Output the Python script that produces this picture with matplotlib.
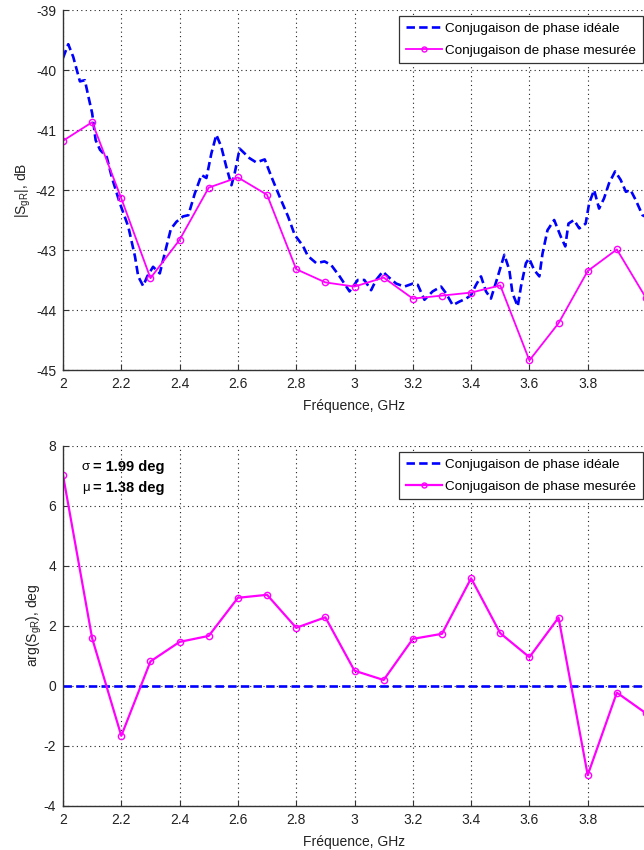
import matplotlib
matplotlib.use("Agg")
import matplotlib.pyplot as plt

plt.rcParams['font.family'] = ['Liberation Sans', 'DejaVu Sans']
plt.rcParams['mathtext.fontset'] = 'custom'
plt.rcParams['mathtext.rm'] = 'Liberation Sans'
plt.rcParams['mathtext.it'] = 'Liberation Sans:italic'
plt.rcParams['axes.unicode_minus'] = False

# ---- data ----
freq_meas = [2.0, 2.1, 2.2, 2.3, 2.4, 2.5, 2.6, 2.7, 2.8, 2.9, 3.0,
             3.1, 3.2, 3.3, 3.4, 3.5, 3.6, 3.7, 3.8, 3.9, 4.0]
mag_meas = [-41.18, -40.87, -42.14, -43.47, -42.83, -41.96, -41.79, -42.08,
            -43.32, -43.54, -43.61, -43.46, -43.81, -43.76, -43.71, -43.59,
            -44.84, -44.22, -43.35, -42.99, -43.80]
phase_meas = [7.02, 1.58, -1.67, 0.81, 1.46, 1.66, 2.93, 3.03, 1.93, 2.28, 0.50,
              0.19, 1.56, 1.73, 3.58, 1.75, 0.95, 2.27, -2.98, -0.23, -0.92]

freq_ideal = [2.000, 2.018, 2.035, 2.058, 2.075, 2.087, 2.100, 2.112, 2.127, 2.150,
              2.167, 2.195, 2.224, 2.247, 2.258, 2.275, 2.289, 2.309, 2.332, 2.355,
              2.370, 2.389, 2.412, 2.430, 2.452, 2.475, 2.492, 2.509, 2.526, 2.543,
              2.560, 2.578, 2.589, 2.606, 2.623, 2.640, 2.663, 2.692, 2.715, 2.743,
              2.772, 2.795, 2.823, 2.840, 2.869, 2.897, 2.920, 2.949, 2.983, 3.011,
              3.034, 3.057, 3.074, 3.097, 3.114, 3.143, 3.171, 3.200, 3.217, 3.240,
              3.268, 3.297, 3.314, 3.337, 3.360, 3.383, 3.400, 3.417, 3.434, 3.451,
              3.468, 3.491, 3.514, 3.531, 3.542, 3.560, 3.571, 3.588, 3.599, 3.616,
              3.634, 3.645, 3.662, 3.685, 3.708, 3.723, 3.734, 3.753, 3.771, 3.793,
              3.805, 3.822, 3.839, 3.856, 3.873, 3.894, 3.913, 3.931, 3.947, 3.965,
              3.988, 4.000]
mag_ideal = [-39.80, -39.57, -39.78, -40.19, -40.17, -40.44, -40.72, -41.17, -41.33, -41.45,
             -41.78, -42.22, -42.61, -43.11, -43.44, -43.60, -43.44, -43.28, -43.39, -42.94,
             -42.65, -42.53, -42.44, -42.42, -42.06, -41.75, -41.80, -41.39, -41.08, -41.28,
             -41.61, -41.92, -41.72, -41.31, -41.39, -41.47, -41.54, -41.49, -41.78, -42.11,
             -42.44, -42.75, -42.93, -43.10, -43.22, -43.19, -43.25, -43.44, -43.69, -43.50,
             -43.50, -43.67, -43.50, -43.36, -43.44, -43.56, -43.61, -43.56, -43.58, -43.83,
             -43.69, -43.61, -43.72, -43.92, -43.86, -43.81, -43.75, -43.58, -43.44, -43.69,
             -43.81, -43.45, -43.08, -43.33, -43.72, -43.94, -43.61, -43.22, -43.14, -43.33,
             -43.44, -43.06, -42.67, -42.50, -42.78, -42.94, -42.56, -42.50, -42.64, -42.56,
             -42.22, -42.00, -42.31, -42.14, -41.89, -41.69, -41.83, -42.03, -42.00, -42.17,
             -42.42, -42.45]
phase_ideal_freq = [2.0, 4.0]
phase_ideal = [0.0, 0.0]

xticks = [2.0, 2.2, 2.4, 2.6, 2.8, 3.0, 3.2, 3.4, 3.6, 3.8]
xticklabels = ['2', '2.2', '2.4', '2.6', '2.8', '3', '3.2', '3.4', '3.6', '3.8']
yticks_top = [-45, -44, -43, -42, -41, -40, -39]
yticks_bot = [-4, -2, 0, 2, 4, 6, 8]

label_ideal = 'Conjugaison de phase idéale'
label_meas = 'Conjugaison de phase mesurée'
xlabel = 'Fréquence, GHz'
stats_sym = ['σ', 'μ']
stats_val = ['= 1.99 deg', '= 1.38 deg']

# ---- figure ----
W, H = 644, 850
fig = plt.figure(figsize=(W / 100, H / 100), dpi=100)

def fx(px):
    return px / W

def fy(py):
    return 1 - py / H

left, right = 63, 646
ax1 = fig.add_axes([fx(left), fy(370), fx(right - left), (370 - 10) / H])
ax2 = fig.add_axes([fx(left), fy(805.7), fx(right - left), (805.7 - 445.7) / H])

BLUE = '#0000ff'
MAG = '#ff00ff'
AXC = '#333333'
TXT = '#222222'

def style(ax):
    ax.set_xlim(2, 4)
    ax.set_xticks(xticks)
    ax.set_xticklabels(xticklabels)
    for s in ['top', 'right']:
        ax.spines[s].set_visible(False)
    for s in ['left', 'bottom']:
        ax.spines[s].set_color(AXC)
        ax.spines[s].set_linewidth(1.0)
    ax.tick_params(direction='in', length=4, width=0.8, colors=AXC,
                   labelsize=10, labelcolor=TXT, pad=5)
    ax.grid(True, linestyle=(0, (1, 3)), color=TXT, linewidth=0.8)
    ax.set_axisbelow(True)
    ax.set_xlabel(xlabel, fontsize=10, color=TXT, labelpad=6)

# top
ax1.plot(freq_ideal, mag_ideal, color=BLUE, linewidth=1.9, dashes=(3.2, 1.6),
         label=label_ideal)
ax1.plot(freq_meas, mag_meas, color=MAG, linewidth=1.3, marker='o', markersize=4.5,
         markerfacecolor='none', markeredgewidth=1.0, label=label_meas)
ax1.set_ylim(-45, -39)
ax1.set_yticks(yticks_top)
style(ax1)
ax1.set_ylabel(r'|S$_{\mathrm{gR}}$|, dB', fontsize=10, color=TXT, labelpad=2)

# bottom
ax2.plot(phase_ideal_freq, phase_ideal, color=BLUE, linewidth=1.9, dashes=(3.2, 1.6),
         label=label_ideal)
ax2.plot(freq_meas, phase_meas, color=MAG, linewidth=1.6, marker='o', markersize=4.5,
         markerfacecolor='none', markeredgewidth=1.0, label=label_meas)
ax2.set_ylim(-4, 8)
ax2.set_yticks(yticks_bot)
style(ax2)
ax2.set_ylabel(r'arg(S$_{\mathrm{gR}}$), deg', fontsize=10, color=TXT, labelpad=0)

for i, (sym, val) in enumerate(zip(stats_sym, stats_val)):
    yy = fy(467 + 21 * i)
    fig.text(fx(82), yy, sym, fontsize=9.5, ha='left', va='center')
    fig.text(fx(93), yy, val, fontsize=10.5, fontweight='bold', ha='left', va='center')

for ax, top in [(ax1, 15.7), (ax2, 451.7)]:
    leg = ax.legend(loc='upper right', bbox_to_anchor=(fx(643), fy(top)),
                    bbox_transform=fig.transFigure, borderaxespad=0,
                    fontsize=9.7, fancybox=False, framealpha=1,
                    edgecolor='#333333', handlelength=2.7, handletextpad=0.25,
                    labelspacing=0.7, borderpad=0.5, markerscale=0.8)
    leg.get_frame().set_linewidth(0.9)

fig.savefig('out.png', dpi=100)
